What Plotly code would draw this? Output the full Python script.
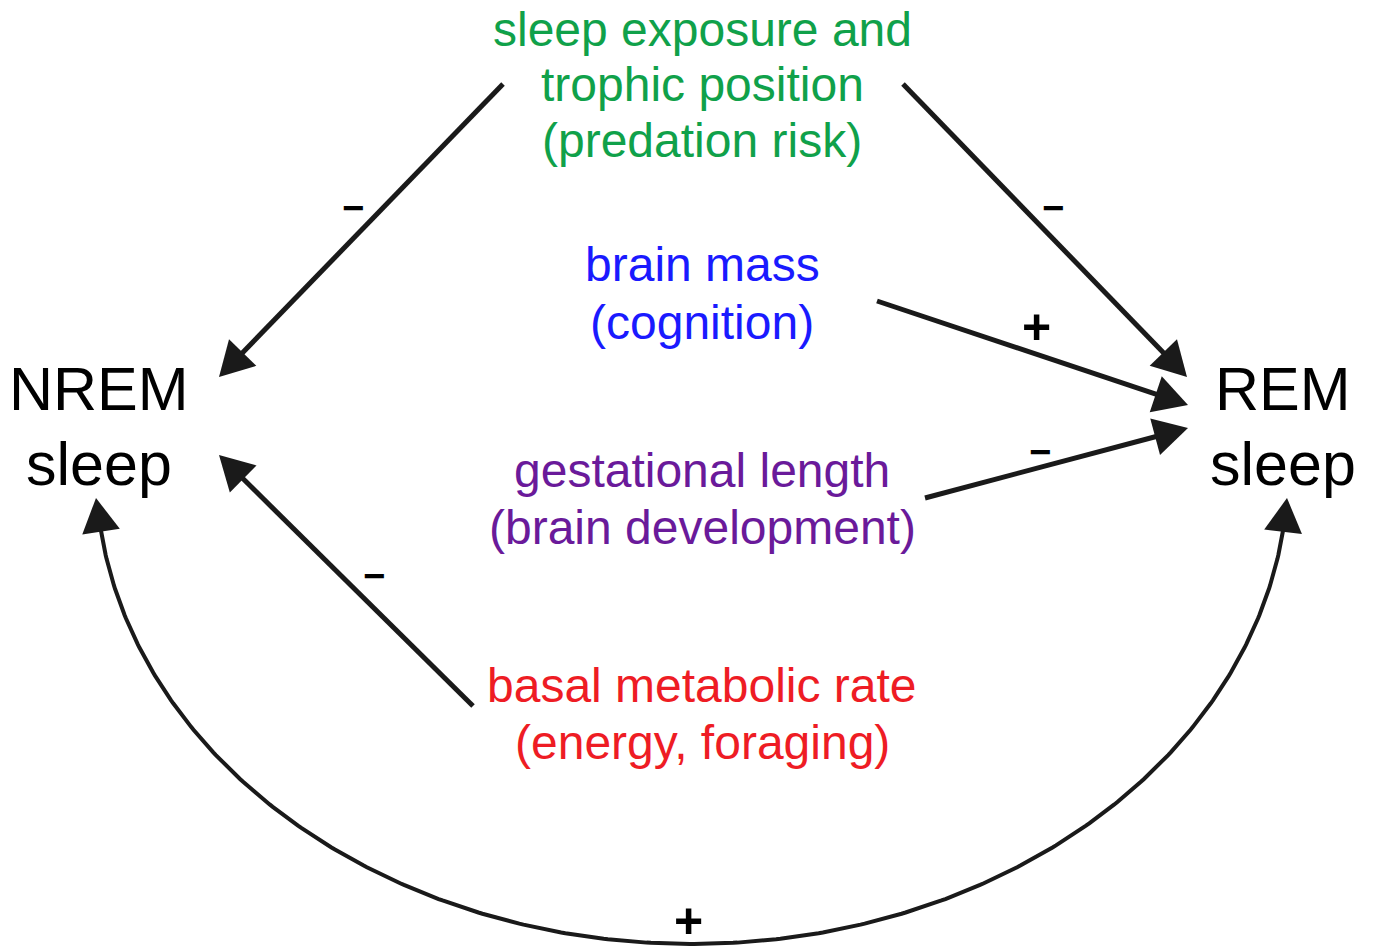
import numpy as np
import plotly.graph_objects as go

W, H = 1375, 952
OFF = 8  # browser body margin

# Nodes (sleep states)
node_lines = [["NREM", "sleep"], ["REM", "sleep"]]
node_x = [99, 1283]
node_y = [[389, 464], [389, 464]]

# Factors (ecological / physiological drivers)
factor_lines = [
    ["sleep exposure and", "trophic position", "(predation risk)"],
    ["brain mass", "(cognition)"],
    ["gestational length", "(brain development)"],
    ["basal metabolic rate", "(energy, foraging)"],
]
factor_colors = ["#10a14a", "#1a1aff", "#6a1a9a", "#ee1c24"]
factor_x = [702, 702, 702, 702]
factor_y = [[29, 84, 140], [264, 322], [470, 527], [685, 742]]

# Straight causal links: start -> arrow tip, with sign
edge_x0 = [503, 903, 877, 925, 473]
edge_y0 = [84, 84, 301, 498, 706]
edge_x1 = [219, 1187, 1188, 1188, 219]
edge_y1 = [377, 377, 405, 428, 455]
edge_sign = ["-", "-", "+", "-", "-"]
sign_x = [353, 1053, 1036, 1040, 374]
sign_y = [208, 208, 327, 452, 576]

# Curved feedback link NREM <-> REM
loop_sign = "+"
loop_sign_xy = (688, 921)

HEAD_LEN, HEAD_HW, LW = 34, 19, 5
INK = "#1a1a1a"

fig = go.Figure()
shapes = []


def head(tx, ty, ux, uy):
    bx, by = tx - ux * HEAD_LEN, ty - uy * HEAD_LEN
    px, py = -uy, ux
    return (f"M {tx},{ty} L {bx + px * HEAD_HW},{by + py * HEAD_HW} "
            f"L {bx - px * HEAD_HW},{by - py * HEAD_HW} Z"), (bx + ux * 4, by + uy * 4)


for x0, y0, x1, y1 in zip(edge_x0, edge_y0, edge_x1, edge_y1):
    d = np.hypot(x1 - x0, y1 - y0)
    ux, uy = (x1 - x0) / d, (y1 - y0) / d
    p, (bx, by) = head(x1, y1, ux, uy)
    shapes.append(dict(type="line", x0=x0, y0=y0, x1=bx, y1=by,
                       line=dict(color=INK, width=LW), layer="above"))
    shapes.append(dict(type="path", path=p, fillcolor=INK,
                       line=dict(width=0), layer="above"))

# elliptical arc
cx, cy, rx, ry = 692, 470, 596, 474
t = np.linspace(0, 1, 400)
yl = 528
a0 = np.arcsin((yl - cy) / ry)
ang = a0 + (np.pi - 2 * a0) * t
ex = cx + rx * np.cos(ang)
ey = cy + ry * np.sin(ang)
fig.add_trace(go.Scatter(x=ex, y=ey, mode="lines", line=dict(color=INK, width=LW - 1),
                         hoverinfo="skip", showlegend=False))
for tx, ty, sgn in [(1287, 498, 1), (96, 498, -1)]:
    bx0 = ex[0] if sgn == 1 else ex[-1]
    by0 = ey[0] if sgn == 1 else ey[-1]
    d = np.hypot(tx - bx0, ty - by0)
    ux, uy = (tx - bx0) / d, (ty - by0) / d
    p, _ = head(tx, ty, ux, uy)
    shapes.append(dict(type="path", path=p, fillcolor=INK,
                       line=dict(width=0), layer="above"))

FONT = "Liberation Sans, Arial, sans-serif"
ann = []
for lines, x, ys in zip(node_lines, node_x, node_y):
    for s, y in zip(lines, ys):
        ann.append(dict(x=x, y=y, text=s, showarrow=False, xanchor="center",
                        yanchor="middle", font=dict(family=FONT, size=61, color="#000")))
for lines, c, x, ys in zip(factor_lines, factor_colors, factor_x, factor_y):
    for s, y in zip(lines, ys):
        ann.append(dict(x=x, y=y, text=s, showarrow=False, xanchor="center",
                        yanchor="middle", borderpad=0,
                        font=dict(family=FONT, size=48, color=c)))
for s, x, y in zip(edge_sign + [loop_sign], sign_x + [loop_sign_xy[0]], sign_y + [loop_sign_xy[1]]):
    if s == "-":
        txt, sz = "<b>\u2212</b>", 38
    else:
        txt, sz = "<b>+</b>", 50
    ann.append(dict(x=x, y=y, text=txt, showarrow=False, xanchor="center",
                    yanchor="middle", font=dict(family=FONT, size=sz, color="#000")))

fig.update_layout(
    width=W, height=H, margin=dict(l=0, r=0, t=0, b=0),
    paper_bgcolor="white", plot_bgcolor="white",
    xaxis=dict(range=[OFF, W + OFF], visible=False, fixedrange=True),
    yaxis=dict(range=[H + OFF, OFF], visible=False, fixedrange=True),
    shapes=shapes, annotations=ann, showlegend=False,
)
fig.write_html("out.html")
